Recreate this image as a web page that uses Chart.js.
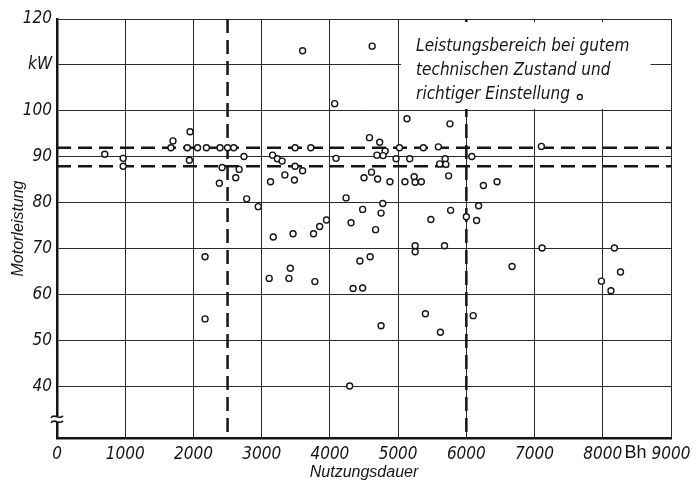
<!DOCTYPE html>
<html>
<head>
<meta charset="utf-8">
<script src="https://cdn.jsdelivr.net/npm/chart.js@4.4.1/dist/chart.umd.min.js"></script>
<style>
  html, body { margin: 0; padding: 0; background: #fff; }
</style>
</head>
<body>
<canvas id="chart" width="699" height="482"></canvas>
<script>
// Nutzungsdauer (Bh) and Motorleistung (kW)
const HOURS = [
  700, 970, 970, 1700, 1670, 1950, 1910, 1940, 2060, 2190,
  2390, 2500, 2590, 2420, 2380, 2620, 2670, 2740, 2170, 2170,
  2780, 2950, 3160, 3230, 3300, 3490, 3720, 3490, 3600, 3340,
  3480, 3130, 3600, 4620, 4070, 5130, 5760, 4090, 4580, 4730,
  4810, 4690, 4780, 5020, 5370, 5590, 4970, 5170, 5690, 5610,
  5700, 6080, 7100, 4500, 4610, 4700, 4880, 5100, 5235, 5250,
  5340, 5740, 4237, 3170, 3460, 3760, 3850, 3950, 4310, 4480,
  4670, 4750, 4775, 5480, 5770, 6000, 6250, 6450, 6180, 6150,
  5250, 5250, 5680, 4440, 4590, 3420, 3110, 3400, 3780, 4340,
  4480, 5400, 4750, 5620, 4290, 7110, 8170, 6670, 8260, 7980,
  8120, 6100
];
const POWER = [
  90.6, 89.7, 88.0, 93.5, 92.0, 95.5, 92.0, 89.3, 92.0, 92.0,
  92.0, 92.0, 92.0, 87.7, 84.3, 85.5, 87.3, 90.1, 68.3, 54.8,
  80.9, 79.2, 90.4, 89.6, 89.1, 92.0, 92.0, 88.0, 87.0, 86.1,
  85.0, 84.6, 113.1, 114.1, 101.6, 98.3, 97.2, 89.7, 94.2, 93.2,
  91.3, 90.4, 90.3, 92.0, 92.0, 92.2, 89.6, 89.6, 89.6, 88.5,
  88.4, 90.1, 92.3, 85.5, 86.7, 85.2, 84.6, 84.6, 85.7, 84.5,
  84.6, 85.9, 81.1, 72.6, 73.3, 73.3, 74.9, 76.3, 75.7, 78.6,
  74.2, 77.8, 79.9, 76.4, 78.4, 77.0, 83.8, 84.6, 79.4, 76.2,
  70.7, 69.4, 70.7, 67.4, 68.3, 65.8, 63.6, 63.6, 62.9, 61.4,
  61.5, 55.9, 53.3, 51.9, 40.2, 70.2, 70.2, 66.2, 65.0, 63.0,
  60.9, 55.5
];

const X_TICKS = [0, 1000, 2000, 3000, 4000, 5000, 6000, 7000, 8000, 9000];
const Y_TICKS = [40, 50, 60, 70, 80, 90, 100, 110, 120];

// range for good condition and correct setting
const BAND_POWER = [88, 92];
const BAND_HOURS = [2500, 6000];

const LEGEND_LINES = [
  'Leistungsbereich bei gutem',
  'technischen Zustand und',
  'richtiger Einstellung'
];

const INK = '#151515';
const TICK_FONT = { family: "'Liberation Sans Narrow', 'DejaVu Sans Condensed', 'Liberation Sans', sans-serif", size: 17, style: 'italic' };
const TITLE_FONT = { family: "'Liberation Sans', sans-serif", size: 16, style: 'italic' };

const overlay = {
  id: 'overlay',
  beforeDatasetsDraw(chart) {
    const { ctx, chartArea: a, scales: { x, y } } = chart;
    ctx.save();
    ctx.strokeStyle = INK;
    ctx.lineWidth = 2.5;
    ctx.setLineDash([14, 7]);
    BAND_POWER.forEach((v) => {
      const py = y.getPixelForValue(v);
      ctx.beginPath();
      ctx.moveTo(a.left, py);
      ctx.lineTo(a.right, py);
      ctx.stroke();
    });
    BAND_HOURS.forEach((v) => {
      const px = x.getPixelForValue(v);
      ctx.beginPath();
      ctx.moveTo(px, a.top);
      ctx.lineTo(px, a.bottom);
      ctx.stroke();
    });
    ctx.restore();
  },
  afterDatasetsDraw(chart) {
    const { ctx, chartArea: a, scales: { x, y } } = chart;
    ctx.save();

    // legend box, covers the grid in the upper right
    const bx = x.getPixelForValue(5000) + 3;
    const bRight = x.getPixelForValue(8700);
    const bTop = a.top + 3;
    const bBottom = y.getPixelForValue(100) - 2;
    ctx.fillStyle = '#fff';
    ctx.fillRect(bx, bTop, bRight - bx, bBottom - bTop);

    ctx.fillStyle = INK;
    ctx.font = "italic 17px 'Liberation Sans Narrow', 'DejaVu Sans Condensed', 'Liberation Sans', sans-serif";
    ctx.textBaseline = 'middle';
    LEGEND_LINES.forEach((line, i) => {
      ctx.fillText(line, bx + 15, bTop + 25 + i * 24);
    });
    const w = ctx.measureText(LEGEND_LINES[2]).width;
    ctx.strokeStyle = INK;
    ctx.lineWidth = 1.3;
    ctx.beginPath();
    ctx.arc(bx + 15 + w + 10, bTop + 25 + 2 * 24 + 2, 2.5, 0, Math.PI * 2);
    ctx.stroke();

    // axis break on the power axis
    const by = y.getPixelForValue(33);
    ctx.fillStyle = '#fff';
    ctx.fillRect(a.left - 3, by - 3, 6, 6);
    ctx.lineWidth = 1.6;
    [-2.5, 2.5].forEach((d) => {
      ctx.beginPath();
      ctx.moveTo(a.left - 6, by + d + 1);
      ctx.bezierCurveTo(a.left - 2, by + d - 4, a.left + 2, by + d + 4, a.left + 6, by + d - 1);
      ctx.stroke();
    });

    // unit next to the hours axis
    ctx.fillStyle = INK;
    ctx.font = "18px 'Liberation Sans', sans-serif";
    ctx.textAlign = 'center';
    ctx.textBaseline = 'top';
    ctx.fillText('Bh', x.getPixelForValue(8480), a.bottom + 6);
    ctx.restore();
  }
};

new Chart(document.getElementById('chart'), {
  type: 'scatter',
  data: {
    datasets: [{
      data: HOURS.map((h, i) => ({ x: h, y: POWER[i] })),
      pointRadius: 3,
      pointBorderWidth: 1.4,
      borderColor: INK,
      backgroundColor: '#fff',
    }],
  },
  options: {
    responsive: false,
    animation: false,
    devicePixelRatio: 1,
    layout: { padding: { top: 19, right: 28, left: 0, bottom: 0 } },
    plugins: {
      legend: { display: false },
      tooltip: { enabled: false },
    },
    scales: {
      x: {
        type: 'linear',
        min: 0,
        max: 9000,
        afterBuildTicks: (scale) => { scale.ticks = X_TICKS.map((value) => ({ value })); },
        afterFit: (scale) => { scale.height = 44; },
        grid: { color: '#2a2a2a', lineWidth: 1, drawTicks: false },
        border: { color: INK, width: 2.5 },
        ticks: { color: INK, font: TICK_FONT, padding: 6, maxRotation: 0, callback: (v) => String(v) },
        title: { display: true, text: 'Nutzungsdauer', color: INK, font: TITLE_FONT, padding: { top: 0, bottom: 0 } },
      },
      y: {
        min: 28.9,
        max: 120,
        afterBuildTicks: (scale) => { scale.ticks = Y_TICKS.map((value) => ({ value })); },
        afterFit: (scale) => { scale.width = 57; },
        grid: { color: '#2a2a2a', lineWidth: 1, drawTicks: false },
        border: { color: INK, width: 2.5 },
        ticks: {
          color: INK,
          font: TICK_FONT,
          padding: 5,
          callback: (v) => (v === 110 ? 'kW' : String(v)),
        },
        title: { display: true, text: 'Motorleistung', color: INK, font: TITLE_FONT, padding: { top: 9, bottom: 0 } },
      },
    },
  },
  plugins: [overlay],
});
</script>
</body>
</html>
